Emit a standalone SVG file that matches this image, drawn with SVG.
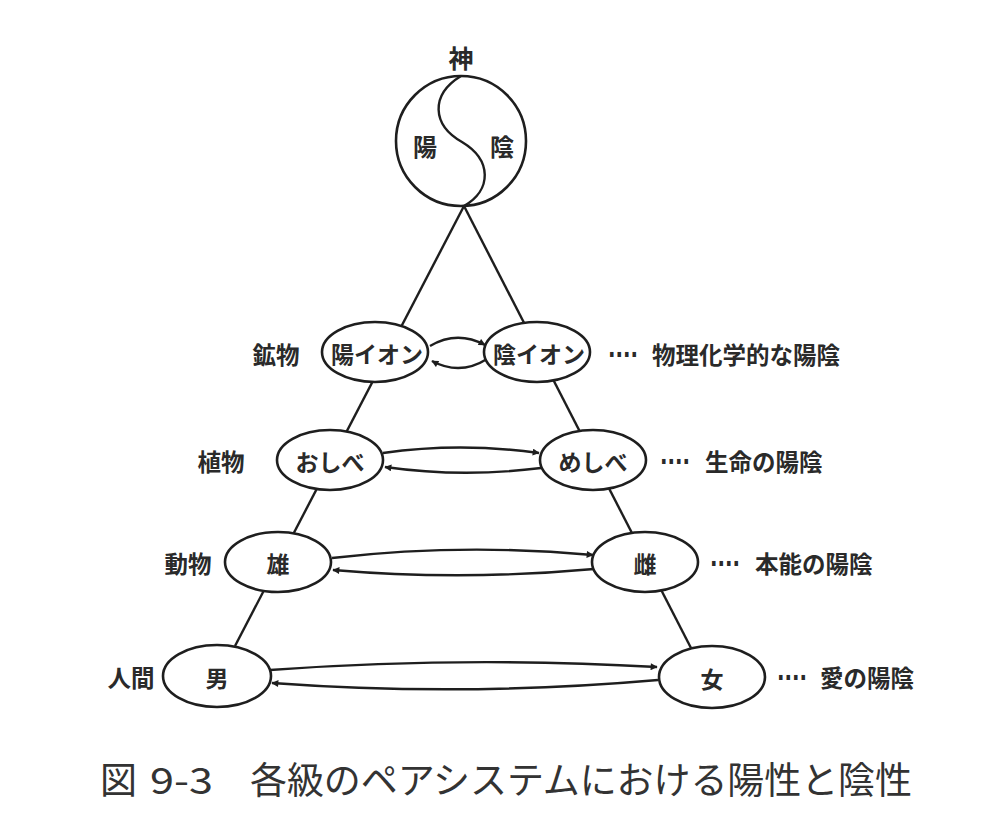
<svg xmlns="http://www.w3.org/2000/svg" width="1000" height="836" viewBox="0 0 1000 836">
<defs>
<style>
.ln{fill:none;stroke:#1e1e1e;stroke-width:2.4}
.arr{fill:none;stroke:#1e1e1e;stroke-width:2.4;marker-end:url(#ah)}
.nd{fill:#fff;stroke:#1e1e1e;stroke-width:2.6}
.t{font-family:"Noto Sans CJK JP","Noto Sans CJK SC",sans-serif;font-weight:bold;font-size:23px;fill:#2a2a2a;text-anchor:middle;dominant-baseline:central}
.lb{font-family:"Noto Sans CJK JP","Noto Sans CJK SC",sans-serif;font-weight:bold;font-size:23.5px;fill:#2a2a2a;dominant-baseline:central}
.dt{font-family:"DejaVu Sans",sans-serif;font-weight:bold;font-size:26px;fill:#2a2a2a;dominant-baseline:central}
.cap{font-family:"Noto Sans CJK JP","Noto Sans CJK SC",sans-serif;font-size:37px;fill:#333;dominant-baseline:central}
</style>
<marker id="ah" viewBox="0 0 10 10" refX="9" refY="5" markerWidth="9" markerHeight="7" markerUnits="userSpaceOnUse" orient="auto">
<path d="M0,0 L10,5 L0,10 z" fill="#1e1e1e"/>
</marker>
</defs>
<rect width="1000" height="836" fill="#fff"/>

<g id="connectors">
<line class="ln" x1="464" y1="206" x2="235" y2="646"/>
<line class="ln" x1="464" y1="206" x2="691" y2="648"/>
<path class="arr" d="M430 346 Q457 330 485 345"/>
<path class="arr" d="M487 359 Q460 376 432 361"/>
<path class="arr" d="M383 453 Q460 442 539 453"/>
<path class="arr" d="M541 468 Q462 478 385 467"/>
<path class="arr" d="M332 558 Q462 543 593 555"/>
<path class="arr" d="M594 569 Q462 581 333 570"/>
<path class="arr" d="M270 670 Q463 656 657 667"/>
<path class="arr" d="M658 680 Q464 697 272 683"/>
</g>

<g id="god">
<text class="t" x="461" y="57" style="font-size:25px">神</text>
<circle class="nd" cx="461" cy="141" r="65"/>
<path class="ln" d="M461 76 C430 95 432 125 462 142 C492 160 492 190 464 206"/>
<text class="t" x="425" y="145" style="font-size:24px">陽</text>
<text class="t" x="502" y="145" style="font-size:24px">陰</text>
</g>

<g id="mineral-label"><text class="t" x="276" y="354" style="font-size:23.5px">鉱物</text></g>
<g id="yang-ion"><ellipse class="nd" cx="375" cy="352" rx="53" ry="30"/><text class="t" x="377" y="353">陽イオン</text></g>
<g id="yin-ion"><ellipse class="nd" cx="537" cy="352" rx="53" ry="30"/><text class="t" x="539" y="353">陰イオン</text></g>
<g id="mineral-note"><text class="dt" x="608" y="355" textLength="30" lengthAdjust="spacingAndGlyphs">····</text><text class="lb" x="652" y="354">物理化学的な陽陰</text></g>

<g id="plant-label"><text class="t" x="221" y="461" style="font-size:23.5px">植物</text></g>
<g id="stamen"><ellipse class="nd" cx="330" cy="460" rx="53" ry="30"/><text class="t" x="330" y="461">おしべ</text></g>
<g id="pistil"><ellipse class="nd" cx="593" cy="460" rx="53" ry="30"/><text class="t" x="593" y="461">めしべ</text></g>
<g id="plant-note"><text class="dt" x="660" y="462" textLength="30" lengthAdjust="spacingAndGlyphs">····</text><text class="lb" x="705" y="461">生命の陽陰</text></g>

<g id="animal-label"><text class="t" x="188" y="563" style="font-size:23.5px">動物</text></g>
<g id="male-animal"><ellipse class="nd" cx="278" cy="562" rx="53" ry="30"/><text class="t" x="278" y="563">雄</text></g>
<g id="female-animal"><ellipse class="nd" cx="645" cy="562" rx="53" ry="30"/><text class="t" x="645" y="563">雌</text></g>
<g id="animal-note"><text class="dt" x="710" y="564" textLength="30" lengthAdjust="spacingAndGlyphs">····</text><text class="lb" x="755" y="563">本能の陽陰</text></g>

<g id="human-label"><text class="t" x="131" y="677" style="font-size:23.5px">人間</text></g>
<g id="man"><ellipse class="nd" cx="217" cy="676" rx="54" ry="31"/><text class="t" x="217" y="677">男</text></g>
<g id="woman"><ellipse class="nd" cx="712" cy="677" rx="53" ry="31"/><text class="t" x="712" y="678">女</text></g>
<g id="human-note"><text class="dt" x="777" y="678" textLength="30" lengthAdjust="spacingAndGlyphs">····</text><text class="lb" x="820" y="677">愛の陽陰</text></g>

<g id="caption">
<text class="cap" x="100" y="778">図</text>
<text class="cap" x="150" y="778" textLength="63" lengthAdjust="spacingAndGlyphs">9-3</text>
<text class="cap" x="250" y="778" textLength="662" lengthAdjust="spacing">各級のペアシステムにおける陽性と陰性</text>
</g>
</svg>
